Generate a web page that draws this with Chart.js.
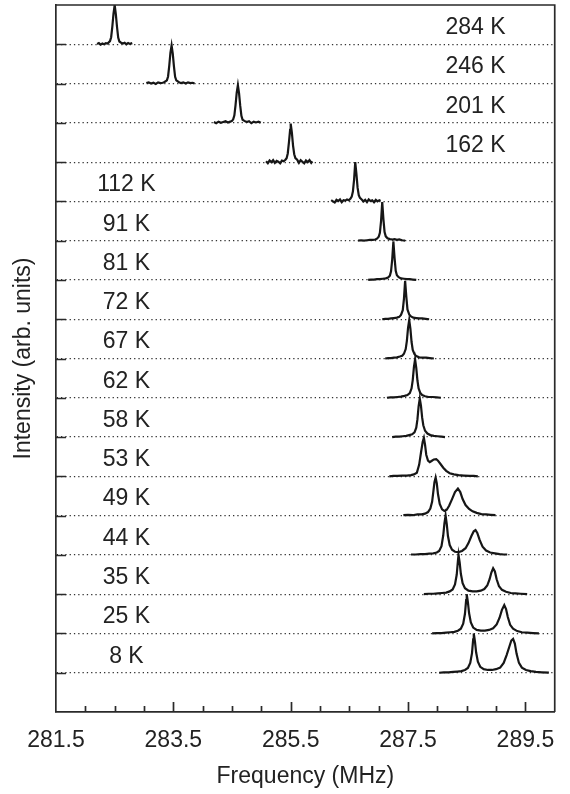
<!DOCTYPE html>
<html>
<head>
<meta charset="utf-8">
<script src="https://cdn.jsdelivr.net/npm/chart.js@4.4.0/dist/chart.umd.min.js"></script>
<style>
  html, body { margin: 0; padding: 0; background: #fff; }
</style>
</head>
<body>
<canvas id="myChart" width="570" height="794"></canvas>
<script>
// temperatures, top trace first
var temps = ['284 K', '246 K', '201 K', '162 K', '112 K', '91 K', '81 K', '72 K', '67 K',
             '62 K', '58 K', '53 K', '49 K', '44 K', '35 K', '25 K', '8 K'];

// spectra: [frequency (MHz), intensity (arb.)]
var t284 = [[282.20,.01],[282.23,.03],[282.26,-.01],[282.29,.02],[282.32,.00],[282.35,.03],[282.38,.02],
  [282.42,.08],[282.44,.18],[282.46,.45],[282.48,.78],[282.50,1.00],[282.52,.76],[282.54,.44],[282.56,.17],
  [282.58,.07],[282.61,.04],[282.64,.02],[282.67,.04],[282.70,.00],[282.73,.03],[282.76,.01],[282.80,.03]];
var t246 = [[283.04,.01],[283.08,.03],[283.12,.00],[283.16,.02],[283.20,-.01],[283.24,.03],[283.28,.01],
  [283.32,.02],[283.35,.04],[283.39,.08],[283.41,.18],[283.43,.45],[283.45,.78],[283.47,.97],[283.49,.76],
  [283.51,.44],[283.53,.17],[283.55,.08],[283.59,.04],[283.63,.01],[283.67,.03],[283.71,.00],[283.75,.03],
  [283.79,.01],[283.83,.02],[283.86,.00]];
var t201 = [[284.19,.02],[284.23,-.01],[284.27,.03],[284.31,.00],[284.35,.02],[284.39,.04],[284.43,.01],
  [284.47,.03],[284.50,.05],[284.52,.09],[284.54,.19],[284.56,.45],[284.58,.77],[284.60,.96],[284.62,.75],
  [284.64,.43],[284.66,.18],[284.68,.08],[284.71,.05],[284.75,.02],[284.79,.04],[284.83,-.01],[284.87,.03],
  [284.91,.01],[284.95,.03],[284.99,.00]];
var t162 = [[285.08,.02],[285.11,-.03],[285.14,.04],[285.17,.00],[285.20,.05],[285.23,-.02],[285.26,.03],
  [285.29,.01],[285.32,-.03],[285.35,.04],[285.38,.02],[285.41,.06],[285.43,.10],[285.45,.22],[285.47,.50],
  [285.49,.82],[285.50,.98],[285.52,.75],[285.54,.42],[285.56,.20],[285.58,.10],[285.61,.06],[285.64,-.02],
  [285.67,.05],[285.70,.01],[285.73,-.03],[285.76,.04],[285.79,.00],[285.82,.05],[285.85,-.02],[285.87,.02]];
var t112 = [[286.19,.03],[286.22,.00],[286.25,-.03],[286.28,.04],[286.31,.01],[286.34,.05],[286.37,-.02],
  [286.40,.03],[286.43,.02],[286.46,.05],[286.49,.03],[286.52,.07],[286.54,.12],[286.56,.25],[286.58,.55],
  [286.60,1.00],[286.62,.70],[286.64,.35],[286.66,.16],[286.68,.09],[286.71,.05],[286.74,.00],[286.77,.04],
  [286.80,-.02],[286.83,.05],[286.86,.01],[286.89,.03],[286.92,-.02],[286.95,.04],[286.98,.00],[287.01,.03],
  [287.03,.01]];
var t91 = [[286.65,.00],[286.70,.01],[286.75,.00],[286.80,.01],[286.85,.02],[286.90,.02],[286.94,.03],
  [286.97,.05],[287.00,.10],[287.02,.20],[287.04,.50],[287.06,.98],[287.08,.55],[287.10,.22],[287.12,.11],
  [287.15,.06],[287.19,.04],[287.23,.03],[287.27,.04],[287.31,.02],[287.35,.03],[287.40,.01],[287.45,.00]];
var t81 = [[286.82,.00],[286.87,.01],[286.92,.01],[286.97,.02],[287.02,.02],[287.07,.03],[287.12,.04],
  [287.16,.06],[287.19,.11],[287.21,.22],[287.23,.52],[287.25,.98],[287.27,.56],[287.29,.23],[287.31,.12],
  [287.34,.07],[287.38,.04],[287.43,.03],[287.48,.02],[287.53,.02],[287.58,.01],[287.64,.00]];
var t72 = [[287.06,.00],[287.11,.01],[287.16,.01],[287.21,.02],[287.26,.03],[287.31,.04],[287.35,.06],
  [287.38,.11],[287.41,.23],[287.43,.52],[287.45,.98],[287.47,.58],[287.49,.25],[287.52,.12],[287.55,.07],
  [287.59,.04],[287.64,.03],[287.69,.02],[287.74,.02],[287.80,.01],[287.86,.00]];
var t67 = [[287.11,.00],[287.16,.01],[287.21,.01],[287.26,.02],[287.31,.03],[287.36,.05],[287.40,.07],
  [287.43,.12],[287.46,.24],[287.48,.45],[287.50,.78],[287.52,.98],[287.54,.76],[287.56,.42],[287.58,.22],
  [287.61,.11],[287.64,.06],[287.69,.03],[287.75,.02],[287.81,.02],[287.87,.01],[287.94,.00]];
var t62 = [[287.14,.00],[287.20,.01],[287.26,.01],[287.32,.02],[287.38,.03],[287.44,.05],[287.49,.07],
  [287.53,.12],[287.56,.24],[287.58,.45],[287.60,.78],[287.62,.98],[287.64,.76],[287.66,.44],[287.68,.24],
  [287.71,.12],[287.74,.07],[287.79,.04],[287.85,.02],[287.92,.02],[287.99,.01],[288.06,.00]];
var t58 = [[287.23,.00],[287.29,.01],[287.35,.01],[287.41,.02],[287.47,.03],[287.52,.05],[287.57,.07],
  [287.61,.12],[287.64,.24],[287.66,.45],[287.68,.78],[287.70,.98],[287.72,.80],[287.74,.50],[287.76,.30],
  [287.79,.16],[287.83,.09],[287.88,.05],[287.94,.03],[288.00,.02],[288.07,.01],[288.13,.00]];
var t53 = [[287.18,.00],[287.25,.01],[287.32,.01],[287.40,.02],[287.48,.02],[287.55,.03],[287.60,.05],
  [287.65,.09],[287.69,.30],[287.72,.60],[287.75,.88],[287.77,.98],[287.79,.80],[287.81,.55],[287.84,.40],
  [287.87,.36],[287.90,.39],[287.94,.43],[287.98,.44],[288.01,.40],[288.05,.32],[288.10,.22],[288.15,.14],
  [288.21,.08],[288.28,.05],[288.36,.03],[288.45,.02],[288.55,.01],[288.62,.01],[288.69,.00]];
var t49 = [[287.42,.01],[287.50,.02],[287.58,.01],[287.66,.03],[287.73,.03],[287.79,.05],[287.84,.09],
  [287.88,.18],[287.91,.35],[287.93,.60],[287.95,.85],[287.97,.97],[287.99,.82],[288.01,.55],[288.04,.30],
  [288.08,.16],[288.12,.12],[288.16,.15],[288.20,.25],[288.25,.42],[288.30,.60],[288.35,.69],[288.39,.60],
  [288.43,.42],[288.48,.27],[288.54,.17],[288.60,.11],[288.67,.07],[288.75,.04],[288.83,.03],[288.91,.02],
  [288.99,.01]];
var t44 = [[287.55,.01],[287.63,.01],[287.71,.02],[287.79,.02],[287.86,.03],[287.93,.04],[287.99,.06],
  [288.03,.10],[288.07,.22],[288.10,.50],[288.12,.80],[288.14,1.00],[288.16,.78],[288.18,.48],[288.21,.25],
  [288.25,.13],[288.30,.08],[288.36,.07],[288.42,.10],[288.48,.17],[288.53,.30],[288.58,.48],[288.62,.60],
  [288.65,.63],[288.68,.56],[288.72,.38],[288.77,.21],[288.83,.11],[288.90,.06],[288.98,.04],[289.06,.02],
  [289.13,.01],[289.19,.01]];
var t35 = [[287.77,.00],[287.85,.01],[287.93,.01],[288.01,.02],[288.08,.03],[288.15,.04],[288.21,.07],
  [288.26,.12],[288.30,.25],[288.33,.50],[288.35,.85],[288.36,1.00],[288.38,.80],[288.40,.52],[288.43,.28],
  [288.47,.15],[288.53,.09],[288.60,.07],[288.67,.07],[288.74,.09],[288.80,.13],[288.85,.22],[288.89,.38],
  [288.92,.55],[288.95,.66],[288.98,.58],[289.01,.38],[289.05,.20],[289.10,.11],[289.17,.06],[289.25,.03],
  [289.33,.02],[289.42,.01],[289.53,.00]];
var t25 = [[287.91,.00],[287.99,.01],[288.07,.01],[288.15,.02],[288.22,.03],[288.29,.04],[288.35,.07],
  [288.40,.12],[288.44,.25],[288.47,.50],[288.49,.85],[288.50,1.00],[288.52,.80],[288.54,.52],[288.57,.28],
  [288.61,.15],[288.67,.09],[288.74,.07],[288.81,.07],[288.88,.09],[288.95,.13],[289.01,.23],[289.06,.40],
  [289.10,.60],[289.14,.72],[289.17,.62],[289.20,.42],[289.24,.22],[289.29,.12],[289.36,.06],[289.44,.03],
  [289.53,.02],[289.63,.01],[289.73,.00]];
var t8 = [[288.03,.00],[288.11,.01],[288.19,.01],[288.27,.02],[288.34,.03],[288.41,.04],[288.47,.07],
  [288.52,.12],[288.56,.25],[288.59,.50],[288.61,.85],[288.62,1.00],[288.64,.80],[288.66,.52],[288.69,.28],
  [288.73,.15],[288.79,.09],[288.86,.07],[288.93,.07],[289.00,.09],[289.07,.13],[289.13,.25],[289.18,.45],
  [289.23,.68],[289.26,.82],[289.29,.86],[289.32,.74],[289.35,.48],[289.39,.25],[289.44,.13],[289.51,.07],
  [289.59,.04],[289.68,.02],[289.78,.01],[289.90,.00]];

var traces = [t284, t246, t201, t162, t112, t91, t81, t72, t67, t62, t58, t53, t49, t44, t35, t25, t8];
var freqTicks = [281.5, 283.5, 285.5, 287.5, 289.5];

var FONT = '"Liberation Sans", Arial, sans-serif';
var n = traces.length;

var datasets = traces.map(function(tr, i) {
  var base = n - i;
  return {
    label: temps[i],
    data: tr.map(function(p) { return {x: p[0], y: base + p[1]}; }),
    borderColor: '#161616',
    borderWidth: 2.2,
    pointRadius: 0,
    fill: false,
    tension: 0
  };
});

// frame on top/right, inward ticks and the temperature labels
var frameTicks = {
  id: 'frameTicks',
  afterDraw: function(chart) {
    var ctx = chart.ctx, a = chart.chartArea;
    var xs = chart.scales.x, ys = chart.scales.y;
    ctx.save();
    ctx.strokeStyle = '#2a2a2a';
    ctx.lineWidth = 1.7;
    ctx.beginPath();
    ctx.moveTo(a.left, a.top);
    ctx.lineTo(a.right, a.top);
    ctx.lineTo(a.right, a.bottom);
    for (var k = 1; k < 17; k++) {
      var f = 281.5 + k * 0.5;
      var px = Math.round(xs.getPixelForValue(f)) + 0.5;
      var len = (k % 4 === 0) ? 10 : 6;
      ctx.moveTo(px, a.bottom);
      ctx.lineTo(px, a.bottom - len);
    }
    for (var j = 1; j <= n; j++) {
      var py = Math.round(ys.getPixelForValue(j)) + 0.5;
      ctx.moveTo(a.left, py);
      ctx.lineTo(a.left + 10, py);
    }
    ctx.stroke();

    ctx.fillStyle = '#222';
    ctx.font = '23px ' + FONT;
    ctx.textAlign = 'center';
    ctx.textBaseline = 'middle';
    temps.forEach(function(t, i) {
      var base = n - i;
      var x = xs.getPixelForValue(i < 4 ? 288.65 : 282.70);
      var y = ys.getPixelForValue(base + 0.42);
      ctx.fillText(t, x, y);
    });
    ctx.restore();
  }
};

new Chart(document.getElementById('myChart').getContext('2d'), {
  type: 'line',
  data: { datasets: datasets },
  plugins: [frameTicks],
  options: {
    responsive: false,
    animation: false,
    layout: { padding: { top: 5, right: 14, left: 0, bottom: 0 } },
    plugins: { legend: { display: false }, tooltip: { enabled: false } },
    scales: {
      x: {
        type: 'linear',
        min: 281.5,
        max: 290,
        afterBuildTicks: function(s) { s.ticks = freqTicks.map(function(v) { return {value: v}; }); },
        afterFit: function(s) { s.height = 82; },
        grid: { display: false, drawTicks: false },
        border: { display: true, color: '#2a2a2a', width: 1.7 },
        ticks: { padding: 15, color: '#222', font: { family: FONT, size: 23 }, maxRotation: 0, autoSkip: false },
        title: { display: true, text: 'Frequency (MHz)', color: '#222',
                 font: { family: FONT, size: 23 }, padding: { top: 0, bottom: 4 } }
      },
      y: {
        type: 'linear',
        min: 0,
        max: n + 1,
        afterBuildTicks: function(s) {
          var t = [];
          for (var v = 0; v <= n + 1; v++) t.push({value: v});
          s.ticks = t;
        },
        afterFit: function(s) { s.width = 56; },
        grid: {
          drawTicks: false,
          lineWidth: 1.2,
          color: function(c) {
            var v = c.tick ? c.tick.value : 0;
            return (v === 0 || v === n + 1) ? 'rgba(0,0,0,0)' : '#333';
          }
        },
        border: { display: true, color: '#2a2a2a', width: 1.7, dash: [1.3, 3] },
        ticks: { display: false },
        title: { display: true, text: 'Intensity (arb. units)', color: '#222',
                 font: { family: FONT, size: 23 }, padding: { top: 10, bottom: 0 } }
      }
    }
  }
});
</script>
</body>
</html>
